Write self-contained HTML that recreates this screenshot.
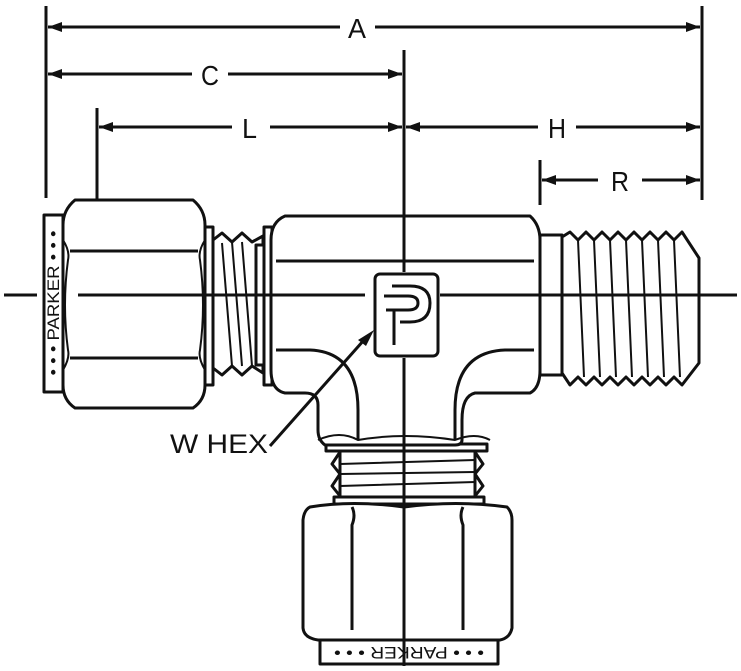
<!DOCTYPE html>
<html><head><style>
html,body{margin:0;padding:0;background:#fff;}
svg{display:block;}
text{font-family:"Liberation Sans",sans-serif;fill:#111;}
</style></head><body>
<svg width="741" height="671" viewBox="0 0 741 671" xmlns="http://www.w3.org/2000/svg">
<g stroke="#111" stroke-width="3" fill="none">
<line x1="46" y1="6" x2="46" y2="198"/>
<line x1="702" y1="6" x2="702" y2="200"/>
<line x1="97" y1="108" x2="97" y2="228"/>
<line x1="540" y1="160" x2="540" y2="205"/>
<line x1="404" y1="50" x2="404" y2="666"/>
<line x1="48" y1="27" x2="340" y2="27"/>
<line x1="375" y1="27" x2="700" y2="27"/>
<line x1="48" y1="74" x2="192" y2="74"/>
<line x1="228" y1="74" x2="402" y2="74"/>
<line x1="99" y1="127" x2="232" y2="127"/>
<line x1="270" y1="127" x2="402" y2="127"/>
<line x1="406" y1="127" x2="538" y2="127"/>
<line x1="576" y1="127" x2="700" y2="127"/>
<line x1="542" y1="180" x2="598" y2="180"/>
<line x1="642" y1="180" x2="700" y2="180"/>
</g>
<g fill="#111">
<path d="M48,27 l14,-5 v10z"/><path d="M700,27 l-14,-5 v10z"/>
<path d="M48,74 l14,-5 v10z"/><path d="M402,74 l-14,-5 v10z"/>
<path d="M99,127 l14,-5 v10z"/><path d="M402,127 l-14,-5 v10z"/>
<path d="M406,127 l14,-5 v10z"/><path d="M700,127 l-14,-5 v10z"/>
<path d="M542,180 l14,-5 v10z"/><path d="M700,180 l-14,-5 v10z"/>
</g>
<text x="348" y="38" font-size="28" textLength="18" lengthAdjust="spacingAndGlyphs">A</text>
<text x="201" y="85" font-size="28" textLength="18" lengthAdjust="spacingAndGlyphs">C</text>
<text x="242" y="138" font-size="28" textLength="15" lengthAdjust="spacingAndGlyphs">L</text>
<text x="548" y="138" font-size="28" textLength="18" lengthAdjust="spacingAndGlyphs">H</text>
<text x="611" y="191" font-size="28" textLength="18" lengthAdjust="spacingAndGlyphs">R</text>

<g stroke="#111" stroke-width="3" fill="#fff" stroke-linejoin="round">
<rect x="540" y="235" width="22" height="140"/>
<path d="M562,237 L570,232 L578,240 L586,232 L594,240 L602,232 L610,240 L618,232 L626,240 L634,232 L642,240 L650,232 L658,240 L666,232 L674,240 L682,232 L699,258 L699,363 L682,385 L674,377 L666,385 L658,377 L650,385 L642,377 L634,385 L626,377 L618,385 L610,377 L602,385 L594,377 L586,385 L578,377 L570,385 L562,373 Z"/>
<g fill="none" stroke-width="2">
<path d="M578,240 L584,377 M594,240 L600,377 M610,240 L616,377 M626,240 L632,377 M642,240 L648,377 M658,240 L664,377 M674,240 L680,377"/>
</g>
<rect x="340" y="450" width="135" height="48"/>
<path d="M340,452 L332,464 L340,474 L332,486 L340,496 M475,452 L483,464 L475,474 L483,486 L475,496" fill="none"/>
<path d="M340,464 L475,460 M340,486 L475,482 M340,474 L475,472" fill="none" stroke-width="2"/>
<rect x="326" y="444" width="161" height="7"/>
<rect x="334" y="497" width="150" height="7"/>
<rect x="320" y="640" width="178" height="24"/>
<path d="M310,507 Q352,500 404,507 Q456,500 507,507 Q512,512 512,520 L512,628 Q510,638 500,640 L318,640 Q304,638 303,628 L303,520 Q304,510 310,507 Z"/>
<path d="M352,507 Q356,515 352,525 L352,630 M463,507 Q459,515 463,525 L463,630" fill="none"/>
<path d="M213,240 L222,233 L232,242 L242,233 L252,242 L263,236 L263,373 L252,366 L242,375 L232,366 L222,375 L213,368 Z"/>
<path d="M222,243 L232,366 M232,242 L242,366 M242,242 L252,366" fill="none" stroke-width="2"/>
<rect x="205" y="227" width="8" height="158"/>
<rect x="256" y="245" width="8" height="120"/>
<rect x="264" y="227" width="8" height="158"/>
<rect x="44" y="215" width="19" height="177"/>
<path d="M75,200 L193,200 Q205,210 205,225 L205,385 Q205,400 193,408 L75,408 Q63,400 63,385 L63,225 Q63,210 75,200 Z"/>
<path d="M70,251 L198,251 M70,358 L198,358" fill="none"/>
<path d="M63,240 Q70,251 68,260 Q62,305 68,350 Q70,358 63,370 M205,240 Q198,251 200,260 Q206,305 200,350 Q198,358 205,370" fill="none" stroke-width="2"/>
<path d="M285,216 L530,216 Q540,225 540,240 L540,370 Q540,388 530,393 L475,393 Q462,396 462,420 L462,440 Q462,445 455,445 L325,445 Q318,440 318,430 L318,405 Q318,393 305,393 L285,393 Q271,390 271,370 L271,240 Q271,222 285,216 Z"/>
<path d="M276,261 L534,261 M276,350 L310,350 Q358,352 358,410 L358,440 M534,350 L505,350 Q455,352 455,410 L455,440" fill="none"/>
<path d="M318,440 Q340,430 358,440 Q404,432 455,440 Q475,432 490,440" fill="none" stroke-width="2"/>
<rect x="375" y="274" width="63" height="82" rx="5"/>
<path d="M384,296 L408,296 Q418,296 418,303 Q418,310 408,310 L386,310 M394,310 L394,345 M392,286 L410,286 Q430,286 430,303 Q430,322 410,322 L400,322" fill="none" stroke-width="3"/>
</g>
<g stroke="#111" stroke-width="3">
<line x1="4" y1="295" x2="37" y2="295"/>
<line x1="78" y1="295" x2="365" y2="295"/>
<line x1="440" y1="295" x2="737" y2="295"/>
<line x1="404" y1="50" x2="404" y2="272"/>
<line x1="404" y1="358" x2="404" y2="666"/>
<line x1="270" y1="446" x2="364" y2="340"/>
</g>
<path d="M374,330 L358,340 L366,346 Z" fill="#111"/>
<text x="170" y="453" font-size="27" textLength="98" lengthAdjust="spacingAndGlyphs">W HEX</text>
<text transform="translate(59,303) rotate(-90)" font-size="17" text-anchor="middle" textLength="145" lengthAdjust="spacingAndGlyphs">• • • PARKER • • •</text>
<text transform="translate(409,647) rotate(180)" font-size="17" text-anchor="middle" textLength="150" lengthAdjust="spacingAndGlyphs">• • • PARKER • • •</text>
</svg>
</body></html>
